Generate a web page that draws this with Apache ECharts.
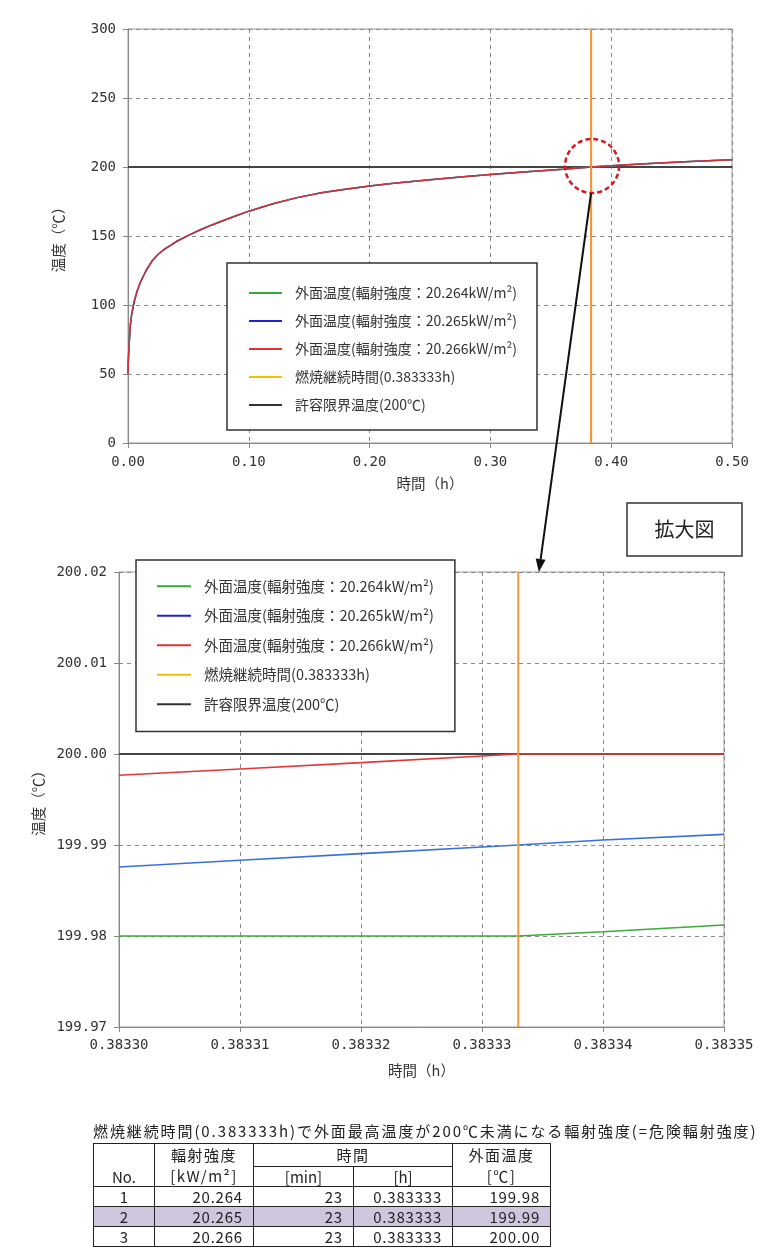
<!DOCTYPE html>
<html><head><meta charset="utf-8">
<script src="https://cdn.jsdelivr.net/npm/echarts@6/dist/echarts.min.js"></script>
<style>
html,body{margin:0;padding:0;background:#fff;}
#chart{position:absolute;left:0;top:0;width:763px;height:1258px;}
#tblTitle{position:absolute;left:93px;top:1121px;font-family:'Noto Sans CJK JP';font-size:15px;letter-spacing:1.9px;color:#222;white-space:nowrap;line-height:20px;}
#tbl{position:absolute;left:93px;top:1143px;border-collapse:collapse;table-layout:fixed;width:457px;font-family:'Noto Sans CJK JP';font-size:15px;color:#222;border:1.5px solid #222;}
#tbl td{border:1px solid #222;padding:0;line-height:19px;text-align:center;overflow:hidden;white-space:nowrap;}
#tbl td.h{letter-spacing:1.5px;}
#tbl td.num{text-align:right;padding-right:10px;letter-spacing:0.8px;}
#tbl tr.dr td{height:19px;}
#tbl tr.dr.dot td{border-bottom:1px dotted #222;}
#tbl tr.hl td{background:#CFC5DD;}
</style>
</head><body>
<div id="chart"></div>
<div id="tblTitle"></div>
<table id="tbl"></table>
<script>
// ---------- data ----------
const topTime = [0, 0.0003, 0.001, 0.002, 0.003, 0.005, 0.0075, 0.01, 0.015, 0.02, 0.025, 0.03, 0.04, 0.05, 0.06, 0.07, 0.08, 0.09, 0.1, 0.12, 0.14, 0.16, 0.18, 0.2, 0.22, 0.25, 0.28, 0.3, 0.33, 0.36, 0.383333, 0.41, 0.44, 0.47, 0.5];
const topTemp = [50, 60, 73, 86, 93, 102, 110, 116, 125, 132, 136.8, 140.3, 146, 150.5, 154.5, 158.2, 161.6, 164.9, 168, 173.4, 177.8, 181.3, 183.9, 186.3, 188.2, 190.7, 193.1, 194.5, 196.5, 198.4, 200, 201.4, 202.9, 204.2, 205.3];

const zoomTime  = [0.38330, 0.38331, 0.38332, 0.38333, 0.383333, 0.38334, 0.38335];
const zoomGreen = [199.98, 199.98, 199.98, 199.98, 199.98, 199.98047, 199.98121];
const zoomBlue  = [199.98758, 199.98832, 199.98905, 199.98978, 199.99, 199.99055, 199.99117];
const zoomRed   = [199.99766, 199.99835, 199.99905, 199.99978, 200.00, 200.00, 200.00];

const burnTime = 0.383333;
const limitTemp = 200;

const seriesNames = [
  '外面温度(輻射強度：20.264kW/m²)',
  '外面温度(輻射強度：20.265kW/m²)',
  '外面温度(輻射強度：20.266kW/m²)',
  '燃焼継続時間(0.383333h)',
  '許容限界温度(200℃)'
];

const tableTitle = '燃焼継続時間(0.383333h)で外面最高温度が200℃未満になる輻射強度(=危険輻射強度)';
const tblNo = ['1', '2', '3'];
const tblIntensity = ['20.264', '20.265', '20.266'];
const tblMin = ['23', '23', '23'];
const tblHour = ['0.383333', '0.383333', '0.383333'];
const tblTemp = ['199.98', '199.99', '200.00'];

// ---------- styles ----------
const lineColors = ['#3DAA3D', '#3A70D8', '#E0383A', '#F0983E', '#444444'];
const legendColors = ['#33AA33', '#2222CC', '#DD3333', '#F2C200', '#333333'];
const monoFont = 'DejaVu Sans Mono';
const jpFont = 'Noto Sans CJK JP';

function zip(a, b) { return a.map((v, i) => [v, b[i]]); }

function axisCommon(extra) {
  return Object.assign({
    type: 'value',
    axisLine: { show: true, onZero: false, lineStyle: { color: '#888', width: 1 } },
    axisTick: { show: true, inside: false, length: 5, lineStyle: { color: '#888' } },
    splitLine: { show: true, lineStyle: { color: '#8a8a8a', type: [4, 4], width: 1 } },
    nameLocation: 'middle',
    nameTextStyle: { fontFamily: jpFont, fontSize: 14.5, color: '#333' }
  }, extra);
}

const chart = echarts.init(document.getElementById('chart'), null, { renderer: 'canvas' });

function legendCfg(left, top, padding, gap, w, fs) {
  return {
    orient: 'vertical', left: left, top: top, padding: padding,
    itemGap: gap, itemWidth: w, itemHeight: 2, icon: 'rect',
    borderColor: '#333', borderWidth: 1.5, backgroundColor: '#fff',
    selectedMode: false, z: 10,
    textStyle: { fontFamily: jpFont, fontSize: fs, color: '#333', padding: [0, 0, 0, 8] },
    data: seriesNames.map((n, i) => ({ name: n, itemStyle: { color: legendColors[i] } }))
  };
}

function lineSeries(name, xi, data, color, width, z) {
  return {
    type: 'line', name: name, xAxisIndex: xi, yAxisIndex: xi, data: data,
    showSymbol: false, symbol: 'none', silent: true, animation: false,
    lineStyle: { color: color, width: width }, itemStyle: { color: color }, z: z
  };
}

const option = {
  animation: false,
  backgroundColor: '#fff',
  grid: [
    { left: 128, right: 31, top: 29, bottom: 815, show: true, borderColor: '#999', borderWidth: 1 },
    { left: 119, right: 39, top: 572, bottom: 231, show: true, borderColor: '#999', borderWidth: 1 }
  ],
  xAxis: [
    axisCommon({ gridIndex: 0, min: 0, max: 0.5, interval: 0.1, name: '時間（h）', nameGap: 33,
      axisLabel: { margin: 12, fontFamily: monoFont, fontSize: 14, color: '#333', formatter: v => v.toFixed(2) } }),
    axisCommon({ gridIndex: 1, min: 0.38330, max: 0.38335, interval: 0.00001, name: '時間（h）', nameGap: 36,
      axisLabel: { margin: 11, fontFamily: monoFont, fontSize: 14, color: '#333', formatter: v => v.toFixed(5) } })
  ],
  yAxis: [
    axisCommon({ gridIndex: 0, min: 0, max: 300, interval: 50, name: '温度（℃）', nameGap: 62,
      axisLabel: { margin: 12, fontFamily: monoFont, fontSize: 14, color: '#333' } }),
    axisCommon({ gridIndex: 1, min: 199.97, max: 200.02, interval: 0.01, name: '温度（℃）', nameGap: 72,
      axisLabel: { margin: 12, fontFamily: monoFont, fontSize: 14, color: '#333', formatter: v => v.toFixed(2) } })
  ],
  legend: [
    legendCfg(227, 263, [23, 20, 18, 22], 14, 33, 14),
    legendCfg(136, 560, [19, 21, 20, 21], 15, 34, 14.5)
  ],
  series: [
    // top chart
    lineSeries(seriesNames[4], 0, [[0, limitTemp], [0.5, limitTemp]], lineColors[4], 2, 1),
    lineSeries(seriesNames[0], 0, zip(topTime, topTemp), lineColors[0], 1.5, 2),
    lineSeries(seriesNames[1], 0, zip(topTime, topTemp), lineColors[1], 1.5, 3),
    lineSeries(seriesNames[2], 0, zip(topTime, topTemp), '#D03038', 1.5, 4),
    lineSeries(seriesNames[3], 0, [[burnTime, 0], [burnTime, 300]], lineColors[3], 2.2, 5),
    // zoom chart
    lineSeries(seriesNames[4], 1, [[0.38330, limitTemp], [0.38335, limitTemp]], lineColors[4], 2, 1),
    lineSeries(seriesNames[0], 1, zip(zoomTime, zoomGreen), lineColors[0], 1.6, 2),
    lineSeries(seriesNames[1], 1, zip(zoomTime, zoomBlue), lineColors[1], 1.6, 3),
    lineSeries(seriesNames[2], 1, zip(zoomTime, zoomRed), lineColors[2], 1.6, 4),
    lineSeries(seriesNames[3], 1, [[burnTime, 199.97], [burnTime, 200.02]], lineColors[3], 2, 5)
  ]
};
chart.setOption(option);

// ---------- annotations ----------
const arrowTipTime = 0.3833347;
const c = chart.convertToPixel({ xAxisIndex: 0, yAxisIndex: 0 }, [burnTime, limitTemp]);
const tip = chart.convertToPixel({ xAxisIndex: 1, yAxisIndex: 1 }, [arrowTipTime, 200.02]);
const r = 27;
const start = [c[0], c[1] + r - 1];
const dx = tip[0] - start[0], dy = tip[1] - start[1];
const len = Math.sqrt(dx * dx + dy * dy);
const ux = dx / len, uy = dy / len;
const headL = 13, headW = 5;
const base = [tip[0] - ux * headL, tip[1] - uy * headL];
const px = -uy, py = ux;

chart.setOption({
  graphic: [
    { type: 'circle', shape: { cx: c[0] + 1, cy: c[1] - 1, r: r }, z: 100,
      style: { fill: 'none', stroke: '#CC1F25', lineWidth: 2.5, lineDash: [5, 3] } },
    { type: 'line', shape: { x1: start[0], y1: start[1], x2: base[0], y2: base[1] }, z: 100,
      style: { stroke: '#111', lineWidth: 2 } },
    { type: 'polygon', z: 100,
      shape: { points: [tip, [base[0] + px * headW, base[1] + py * headW], [base[0] - px * headW, base[1] - py * headW]] },
      style: { fill: '#111' } },
    { type: 'rect', shape: { x: 627, y: 503, width: 115, height: 53 }, z: 100,
      style: { fill: '#fff', stroke: '#333', lineWidth: 1.5 } },
    { type: 'text', x: 684.5, y: 529.5, z: 101,
      style: { text: '拡大図', fontFamily: jpFont, fontSize: 20, fill: '#222', align: 'center', verticalAlign: 'middle' } }
  ]
});

// ---------- table ----------
document.getElementById('tblTitle').textContent = tableTitle;
let html = '<colgroup><col style="width:61px"><col style="width:99px"><col style="width:100px"><col style="width:99px"><col style="width:98px"></colgroup>';
html += '<tr style="height:22px"><td rowspan="2" style="vertical-align:bottom;height:42px">No.</td>' +
        '<td class="h" rowspan="2" style="line-height:21px">輻射強度<br>[kW/m²]</td>' +
        '<td class="h" colspan="2">時間</td>' +
        '<td class="h" rowspan="2" style="line-height:21px">外面温度<br>[℃]</td></tr>';
html += '<tr style="height:20px"><td>[min]</td><td>[h]</td></tr>';
tblNo.forEach((n, i) => {
  const cls = ['dr'];
  if (i < tblNo.length - 1) cls.push('dot');
  if (i === 1) cls.push('hl');
  html += '<tr class="' + cls.join(' ') + '"><td>' + n + '</td><td class="num">' + tblIntensity[i] +
          '</td><td class="num">' + tblMin[i] + '</td><td class="num">' + tblHour[i] +
          '</td><td class="num">' + tblTemp[i] + '</td></tr>';
});
document.getElementById('tbl').innerHTML = html;
</script>
</body></html>
